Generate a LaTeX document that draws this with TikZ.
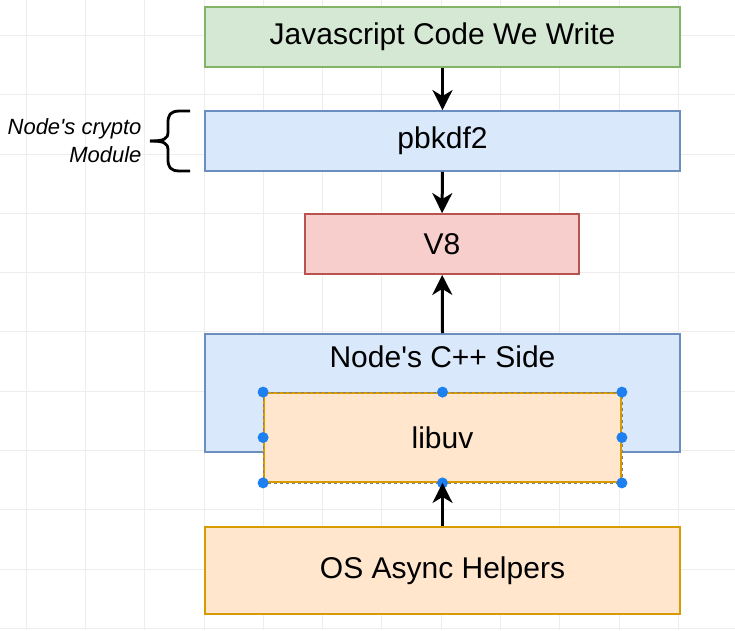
\documentclass[tikz,border=0pt]{standalone}
\usepackage{fontspec}
\setmainfont{Liberation Sans}
\usetikzlibrary{arrows.meta}
\definecolor{greenfill}{HTML}{D5E8D4}\definecolor{greenline}{HTML}{82B366}
\definecolor{bluefill}{HTML}{DAE8FC}\definecolor{blueline}{HTML}{6C8EBF}
\definecolor{redfill}{HTML}{F8CECC}\definecolor{redline}{HTML}{B85450}
\definecolor{orangefill}{HTML}{FFE6CC}\definecolor{orangeline}{HTML}{D79B00}
\definecolor{gridgray}{HTML}{EDEDED}\definecolor{handleblue}{HTML}{1E80F0}
\tikzset{
  box/.style={draw, line width=1.8pt, inner sep=0pt, minimum height=60pt,
    font=\fontsize{30}{35}\selectfont},
  flow/.style={line width=3pt, -{Stealth[length=20pt,width=20pt,inset=6pt]}},
  gridline/.style={gridgray, line width=0.8pt},
  handle/.style={fill=handleblue}
}
\begin{document}
\begin{tikzpicture}[x=1pt,y=-1pt]
\useasboundingbox (0,0) rectangle (735,630);
\fill[white] (0,0) rectangle (735,630);
%grid
\foreach \i in {0,...,12} \draw[gridline] ({26+59.3*\i},0) -- ++(0,630);
\foreach \i in {0,...,10} \draw[gridline] (0,{35.3+59.3*\i}) -- ++(735,0);

%top boxes
\node[box, fill=greenfill, draw=greenline, minimum width=475pt] at (442.5,37) (js) {Javascript Code We Write};
\node[box, fill=bluefill, draw=blueline, minimum width=475pt] at (442.5,141) (pbk) {pbkdf2};
\node[box, fill=redfill, draw=redline, minimum width=274pt] at (442,244) (v8) {V8};
\draw[flow] (js) -- (pbk);
\draw[flow] (pbk) -- (v8);

%crypto brace
\node[anchor=east, align=right, font=\fontsize{22}{28}\selectfont\itshape] at (145,141) (crypto) {Node\textquotesingle s crypto\\Module};
\draw[line width=2.8pt] (190,111) -- (180,111) .. controls (170,111) and (168,115) .. (168,123)
  -- (168,132) .. controls (168,139) and (164,141) .. (150,141);
\draw[line width=2.8pt] (190,171) -- (180,171) .. controls (170,171) and (168,167) .. (168,159)
  -- (168,150) .. controls (168,143) and (164,141) .. (150,141);

%C++ side
\node[box, fill=bluefill, draw=blueline, minimum width=475pt, minimum height=118pt] at (442.5,393) (cpp) {};
\node[font=\fontsize{30}{35}\selectfont] at (442.5,357) (cpptext) {Node\textquotesingle s C++ Side};
\node[box, fill=orangefill, draw=orangeline, minimum width=357pt, minimum height=89pt] at (442.5,437.5) (libuv) {libuv};
\draw[gray, line width=0.6pt, dash pattern=on 3pt off 3pt] (libuv.north west) rectangle (libuv.south east);
\foreach \a in {north west,north,north east,west,east,south west,south,south east}
  \fill[handle] (libuv.\a) circle (5.5pt);
\draw[flow] (cpp.north) -- (v8);

%bottom
\node[box, fill=orangefill, draw=orangeline, minimum width=475pt, minimum height=87pt] at (442.5,570.5) (os) {OS Async Helpers};
\draw[flow] (os) -- (libuv);
\end{tikzpicture}
\end{document}
